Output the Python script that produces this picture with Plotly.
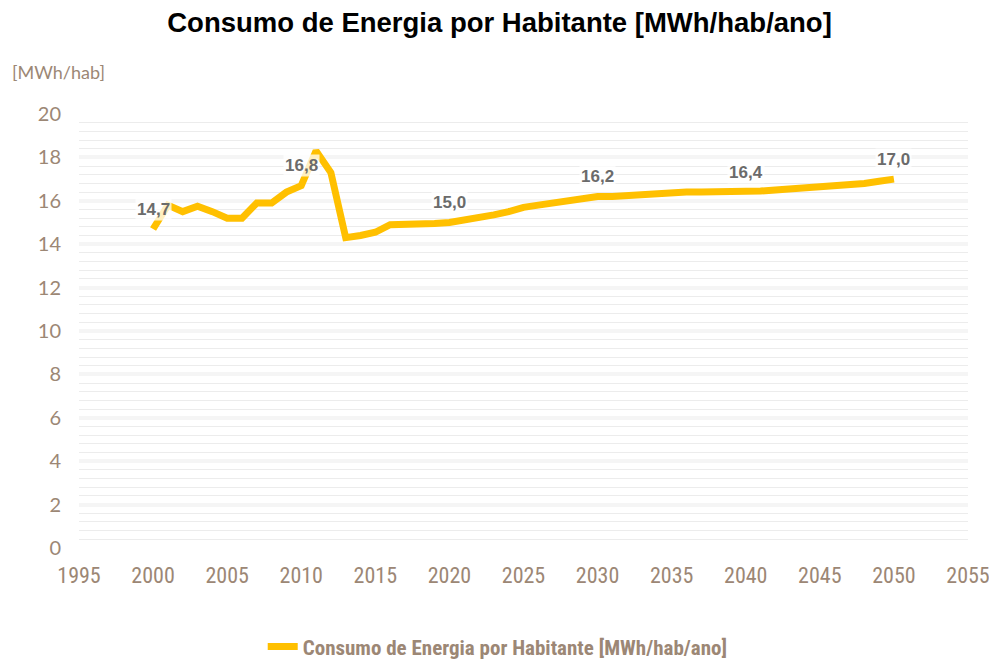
import plotly.graph_objects as go

years = list(range(2000, 2051))
consumo = [14.7, 15.8, 15.5, 15.75, 15.5, 15.2, 15.2, 15.9, 15.9, 16.4,
           16.7, 18.3, 17.3, 14.3, 14.4, 14.55, 14.9, 14.9, 14.9, 14.95,
           15.0, 15.1, 15.25, 15.35, 15.5, 15.7, 15.8, 15.9, 16.0, 16.1,
           16.2, 16.2, 16.25, 16.3, 16.35, 16.35, 16.4, 16.4, 16.4, 16.4,
           16.4, 16.45, 16.5, 16.55, 16.55, 16.6, 16.7, 16.75, 16.8, 16.9,
           17.0]
label_years = [2000, 2010, 2020, 2030, 2040, 2050]
label_texts = ["14,7", "16,8", "15,0", "16,2", "16,4", "17,0"]
series_name = "Consumo de Energia por Habitante [MWh/hab/ano]"
title_text = "Consumo de Energia por Habitante [MWh/hab/ano]"
y_unit = "[MWh/hab]"

brown = "#9c8775"
tick_font = "Lato, 'Noto Sans', sans-serif"
narrow_font = "'Liberation Sans Narrow', 'Roboto Condensed', 'DejaVu Sans Condensed', sans-serif"

fig = go.Figure()
fig.add_trace(go.Scatter(
    x=years, y=consumo, mode="lines", name=series_name,
    line=dict(color="#FFC000", width=7),
))

for yr, txt in zip(label_years, label_texts):
    v = consumo[years.index(yr)]
    fig.add_annotation(
        x=yr, y=v, text=txt, showarrow=False, yshift=20,
        font=dict(family="'Liberation Sans', Arial, sans-serif", size=17, color="#6b6b6b", weight="bold"),
        bgcolor="rgba(255,255,255,0.75)", borderpad=1,
    )

fig.add_annotation(
    x=-0.078, y=1.097, xref="paper", yref="paper", xanchor="left", yanchor="middle",
    text=y_unit, showarrow=False,
    font=dict(family=tick_font, size=18, color=brown),
)

fig.update_layout(
    width=989, height=652,
    margin=dict(l=71, r=29, t=106, b=112, autoexpand=False),
    paper_bgcolor="white", plot_bgcolor="white",
    title=dict(text=title_text, x=0.497, xanchor="center", y=0.9785, yanchor="middle",
               font=dict(family="'Liberation Sans', Arial, sans-serif", size=27.5, color="black", weight="bold")),
    showlegend=True,
    legend=dict(orientation="h", x=0.471, xanchor="center", y=-0.228, yanchor="middle",
                font=dict(family=narrow_font, size=21, color=brown, weight="bold"),
                itemwidth=30),
    xaxis=dict(range=[1995, 2055], tickmode="linear", tick0=1995, dtick=5,
               showgrid=False, zeroline=False, showline=False,
               tickfont=dict(family=narrow_font, size=22, color=brown),
               ticks="", ticklabelstandoff=12),
    yaxis=dict(range=[0, 20], tickmode="linear", tick0=0, dtick=2,
               showgrid=True, gridcolor="#f5f5f5", gridwidth=4,
               minor=dict(dtick=0.4, showgrid=True, gridcolor="#ececec", gridwidth=1),
               zeroline=False, showline=False,
               tickfont=dict(family=tick_font, size=20, color=brown),
               ticks="", ticklabelstandoff=17),
)

fig.write_html("out.html")
